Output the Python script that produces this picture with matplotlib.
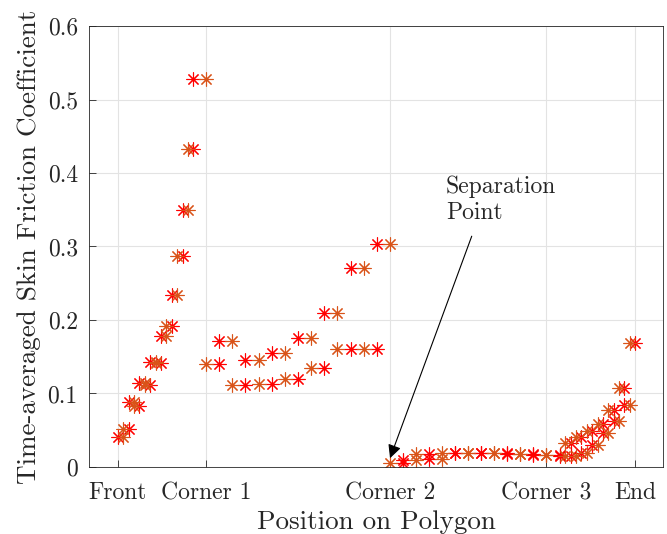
import numpy as np
import matplotlib
matplotlib.use('Agg')
import matplotlib.pyplot as plt

# node positions along the polygon (Front = 0, End = 10)
node_pos = [0.000, 0.105, 0.209, 0.314, 0.418, 0.523, 0.627, 0.732, 0.837, 0.941,
            1.046, 1.150, 1.255, 1.359, 1.464, 1.707,
            1.961, 2.215, 2.469, 2.723, 2.977, 3.231, 3.485, 3.739, 3.993,
            4.247, 4.501, 4.755, 5.009, 5.264,
            5.515, 5.767, 6.018, 6.269, 6.521, 6.772, 7.023, 7.274, 7.526,
            7.777, 8.028, 8.280,
            8.550, 8.654, 8.757, 8.861, 8.964, 9.068, 9.171, 9.275, 9.378,
            9.482, 9.586, 9.689, 9.793, 9.896, 10.000]

# time-averaged skin friction per panel (between consecutive nodes)
cf_panel = [0.041, 0.052, 0.088, 0.083, 0.114, 0.111, 0.143, 0.141, 0.178, 0.192,
            0.234, 0.287, 0.350, 0.433, 0.528,
            0.140, 0.172, 0.112, 0.146, 0.1125, 0.155, 0.120, 0.176, 0.134,
            0.209, 0.161, 0.271, 0.160, 0.303,
            0.006, 0.009, 0.017, 0.011, 0.019, 0.019, 0.019, 0.019, 0.019,
            0.018, 0.017, 0.016, 0.016,
            0.015, 0.032, 0.015, 0.041, 0.019, 0.049, 0.030, 0.059, 0.046,
            0.077, 0.063, 0.107, 0.084, 0.169]

tick_pos = [0.0, 1.707, 5.264, 8.280, 10.0]
tick_labels = ['Front', 'Corner 1', 'Corner 2', 'Corner 3', 'End']

sep_tip = (5.264, 0.012)
sep_tail = (6.843, 0.314)

plt.rcParams['font.family'] = 'cmr10'
plt.rcParams['axes.formatter.use_mathtext'] = True

fig = plt.figure(figsize=(6.67, 5.34), dpi=100)
ax = fig.add_axes([0.1334, 0.1255, 0.8606, 0.8258])

# each panel value is drawn at both of its end nodes, coloured by node parity
red_x, red_y, org_x, org_y = [], [], [], []
for k, v in enumerate(cf_panel):
    for n in (k, k + 1):
        if n % 2 == 0:
            red_x.append(node_pos[n]); red_y.append(v)
        else:
            org_x.append(node_pos[n]); org_y.append(v)

ax.plot(red_x, red_y, linestyle='none', marker=(8, 2, 0), ms=10, mew=0.8, color='#ff0000')
ax.plot(org_x, org_y, linestyle='none', marker=(8, 2, 0), ms=10, mew=0.8, color='#D95319')

ax.annotate('', xy=sep_tip, xytext=sep_tail,
            arrowprops=dict(arrowstyle='-|>', color='k', lw=0.8, mutation_scale=20,
                            shrinkA=0, shrinkB=0))
ax.text(6.34, 0.397, 'Separation\nPoint', fontsize=17, va='top', ha='left',
        linespacing=1.25, color='#262626')

ax.set_xlim(-0.555, 10.54)
ax.set_ylim(0, 0.6)
ax.set_xticks(tick_pos)
ax.set_xticklabels(tick_labels)
ax.set_yticks(np.arange(0, 0.61, 0.1))
ax.set_yticklabels(['0', '0.1', '0.2', '0.3', '0.4', '0.5', '0.6'])
ax.tick_params(direction='in', length=5, width=0.6, labelsize=17, colors='#262626',
               top=False, right=False)
ax.tick_params(axis='x', pad=11)
ax.tick_params(axis='y', pad=8)
ax.grid(True, color='#e3e3e3', lw=0.8)
ax.set_axisbelow(True)
for s in ax.spines.values():
    s.set_color('#262626')
    s.set_linewidth(0.6)

ax.set_xlabel('Position on Polygon', fontsize=19.5, color='#262626', labelpad=4)
ax.set_ylabel('Time-averaged Skin Friction Coefficient', fontsize=19.5, color='#262626', labelpad=5)

fig.savefig('out.png', dpi=100)
